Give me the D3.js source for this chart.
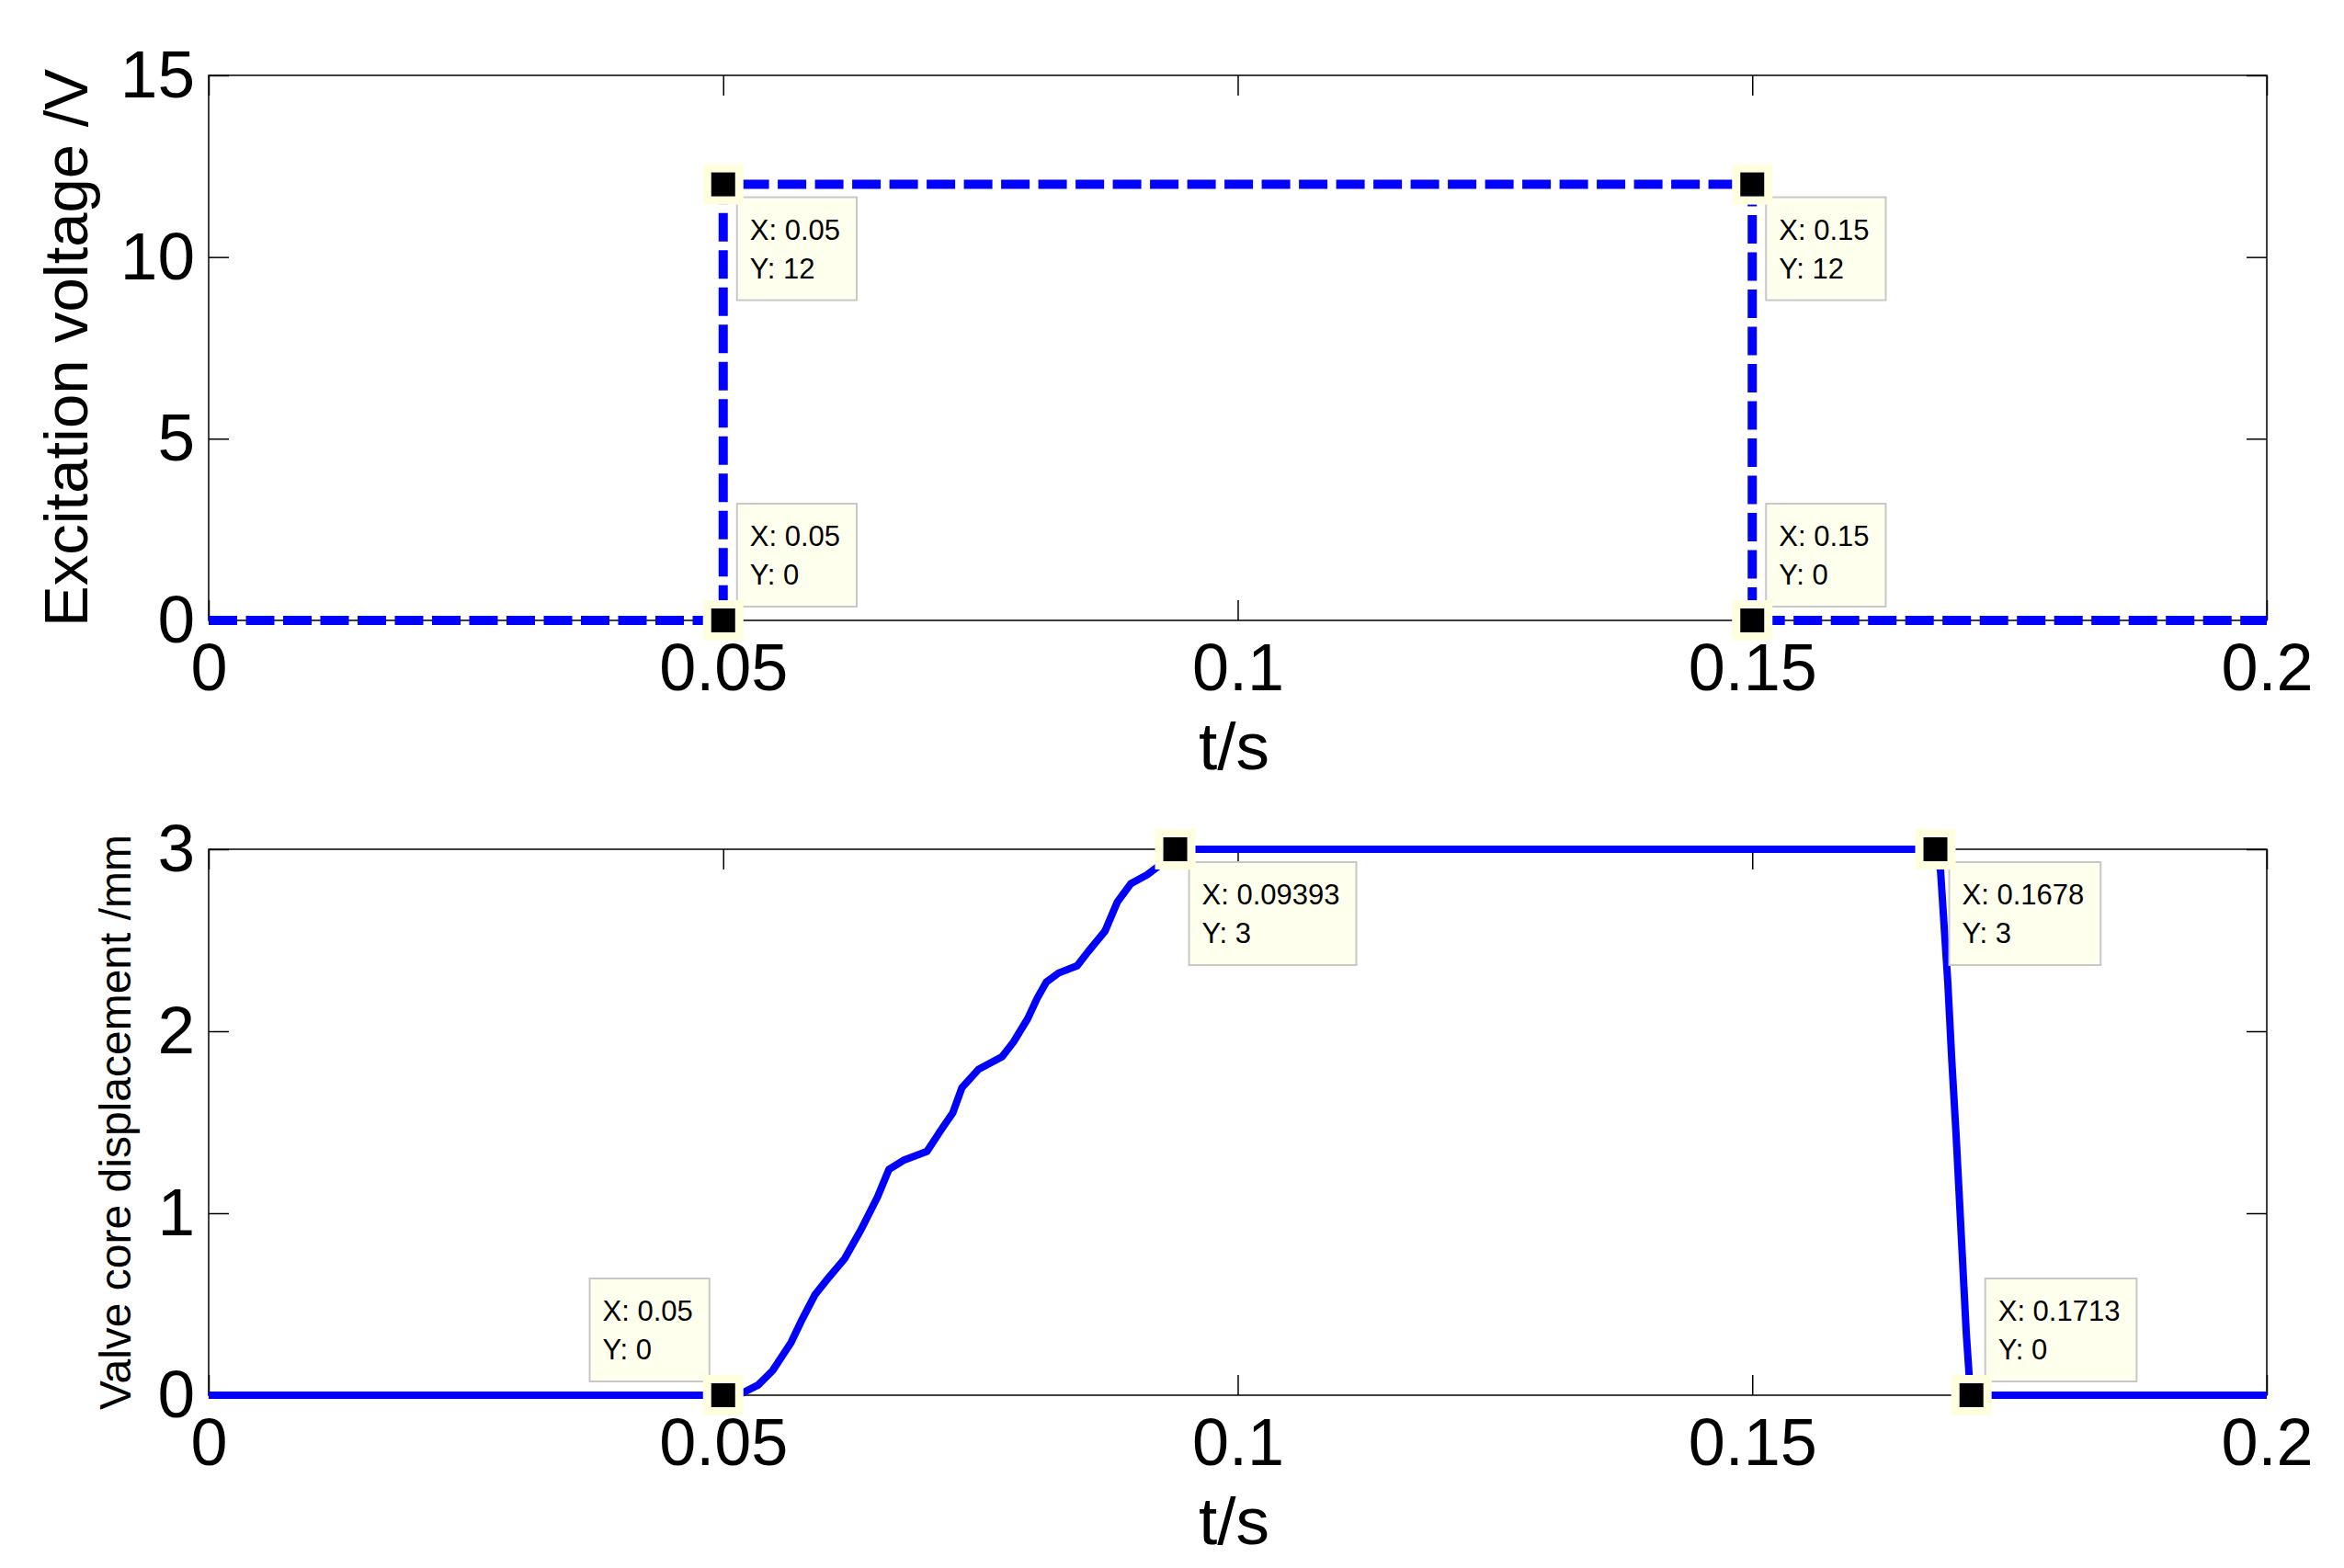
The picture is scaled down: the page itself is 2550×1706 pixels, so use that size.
<!DOCTYPE html>
<html>
<head>
<meta charset="utf-8">
<script src="https://cdn.jsdelivr.net/npm/d3@7"></script>
<style>
  body { margin: 0; background: #fff; }
  text { font-family: "Liberation Sans", Arial, sans-serif; fill: #000; }
</style>
</head>
<body>
<svg width="2550" height="1706"></svg>
<script>
// excitation voltage (top)
var voltT = [0, 0.05, 0.05, 0.15, 0.15, 0.2];
var voltV = [0, 0, 12, 12, 0, 0];
// valve core displacement (bottom)
var dispT = [0, 0.05, 0.0518, 0.0534, 0.0548, 0.0566, 0.0577, 0.0589, 0.0603, 0.0618, 0.0634,
  0.065, 0.0661, 0.0675, 0.0698, 0.0712, 0.0723, 0.0732, 0.0748, 0.0771, 0.0782, 0.0796,
  0.0805, 0.0814, 0.0826, 0.0844, 0.0855, 0.0871, 0.0883, 0.0896, 0.0912, 0.0926, 0.09393,
  0.1678, 0.1683, 0.1690, 0.1694, 0.1698, 0.1703, 0.1708, 0.1711, 0.1713, 0.2];
var dispV = [0, 0, 0.01, 0.056, 0.135, 0.29, 0.42, 0.55, 0.65, 0.75, 0.91,
  1.09, 1.24, 1.29, 1.34, 1.46, 1.55, 1.69, 1.79, 1.86, 1.94, 2.07,
  2.18, 2.27, 2.32, 2.36, 2.44, 2.55, 2.71, 2.81, 2.86, 2.92, 3,
  3, 2.88, 2.27, 1.83, 1.44, 0.89, 0.34, 0.09, 0, 0];
// data tips
var tipsTopX = [0.05, 0.05, 0.15, 0.15];
var tipsTopY = [12, 0, 12, 0];
var tipsBotX = [0.05, 0.09393, 0.1678, 0.1713];
var tipsBotY = [0, 3, 3, 0];
var xTicks = [0, 0.05, 0.1, 0.15, 0.2];
var yTicksTop = [0, 5, 10, 15];
var yTicksBot = [0, 1, 2, 3];

var svg = d3.select("svg");
var left = 227, right = 2466;
var tick = 22;

var x = d3.scaleLinear().domain([0, 0.2]).range([left, right]);
var plain = function(d) { return d; };

function panel(top, bottom, yMax, yTicks, ylabel, ylabelSize, ylabelX) {
  var y = d3.scaleLinear().domain([0, yMax]).range([bottom, top]);
  var g = svg.append("g");

  g.append("g")
    .attr("transform", "translate(0," + bottom + ")")
    .call(d3.axisBottom(x).tickValues(xTicks).tickSizeInner(-tick).tickSizeOuter(0)
      .tickPadding(25).tickFormat(plain))
    .call(styleAxis, 72);
  g.append("g")
    .attr("transform", "translate(0," + top + ")")
    .call(d3.axisTop(x).tickValues(xTicks).tickSizeInner(-tick).tickSizeOuter(0).tickFormat(""))
    .call(styleAxis, 72);
  g.append("g")
    .attr("transform", "translate(" + left + ",0)")
    .call(d3.axisLeft(y).tickValues(yTicks).tickSizeInner(-tick).tickSizeOuter(0)
      .tickPadding(15).tickFormat(plain))
    .call(styleAxis, 73);
  g.append("g")
    .attr("transform", "translate(" + right + ",0)")
    .call(d3.axisRight(y).tickValues(yTicks).tickSizeInner(-tick).tickSizeOuter(0).tickFormat(""))
    .call(styleAxis, 73);

  g.append("rect")
    .attr("x", left).attr("y", top)
    .attr("width", right - left).attr("height", bottom - top)
    .attr("fill", "none").attr("stroke", "#000").attr("stroke-width", 1.5);

  g.append("text")
    .attr("x", (left + right) / 2 - 4).attr("y", bottom + 162)
    .attr("text-anchor", "middle")
    .style("font-size", "73px")
    .text("t/s");

  g.append("text")
    .attr("transform", "translate(" + ylabelX + "," + (top + bottom) / 2 + ") rotate(-90)")
    .attr("text-anchor", "middle")
    .style("font-size", ylabelSize + "px")
    .text(ylabel);

  return y;
}

function styleAxis(sel, size) {
  sel.select(".domain").remove();
  sel.selectAll("line").attr("stroke", "#000").attr("stroke-width", 1.5);
  sel.selectAll("text").style("font-size", size + "px").attr("fill", "#000");
  sel.attr("font-family", null);
}

var yTop = panel(82, 675, 15, yTicksTop, "Excitation voltage /V", 67, 95);
var yBot = panel(924, 1518, 3, yTicksBot, "Valve core displacement /mm", 48, 142);

var voltLine = d3.line()
  .x(function(d, i) { return x(voltT[i]); })
  .y(function(d) { return yTop(d); });
svg.append("path")
  .attr("d", voltLine(voltV))
  .attr("fill", "none")
  .attr("stroke", "#0000ff")
  .attr("stroke-width", 10)
  .attr("stroke-dasharray", "31,9.5");

var dispLine = d3.line()
  .x(function(d, i) { return x(dispT[i]); })
  .y(function(d) { return yBot(d); });
svg.append("path")
  .attr("d", dispLine(dispV))
  .attr("fill", "none")
  .attr("stroke", "#0000ff")
  .attr("stroke-width", 8)
  .attr("stroke-linejoin", "round");

// which side of the point each tip box sits on
var tipSideTop = ["se", "ne", "se", "ne"];
var tipSideBot = ["nw", "se", "se", "ne"];

function dataTips(tx, ty, y, sides) {
  tx.forEach(function(t, i) {
    var px = x(t), py = y(ty[i]);
    var g = svg.append("g");
    var box = g.append("rect")
      .attr("fill", "#ffffee")
      .attr("stroke", "#c8c8c8")
      .attr("stroke-width", 2);
    var l1 = g.append("text").style("font-size", "31px").text("X: " + t);
    var l2 = g.append("text").style("font-size", "31px").text("Y: " + ty[i]);
    var w = Math.max(l1.node().getComputedTextLength(), l2.node().getComputedTextLength()) + 32;
    var h = 112;
    var side = sides[i];
    var bx = side[1] == "e" ? px + 15 : px - 15 - w;
    var by = side[0] == "s" ? py + 14 : py - 15 - h;
    box.attr("x", bx).attr("y", by).attr("width", w).attr("height", h);
    l1.attr("x", bx + 14).attr("y", by + 46);
    l2.attr("x", bx + 14).attr("y", by + 88);

    svg.append("rect")
      .attr("x", px - 22).attr("y", py - 22)
      .attr("width", 44).attr("height", 44)
      .attr("fill", "#ffffe0");
    svg.append("rect")
      .attr("x", px - 13).attr("y", py - 13)
      .attr("width", 26).attr("height", 26)
      .attr("fill", "#000");
  });
}

dataTips(tipsTopX, tipsTopY, yTop, tipSideTop);
dataTips(tipsBotX, tipsBotY, yBot, tipSideBot);
</script>
</body>
</html>
